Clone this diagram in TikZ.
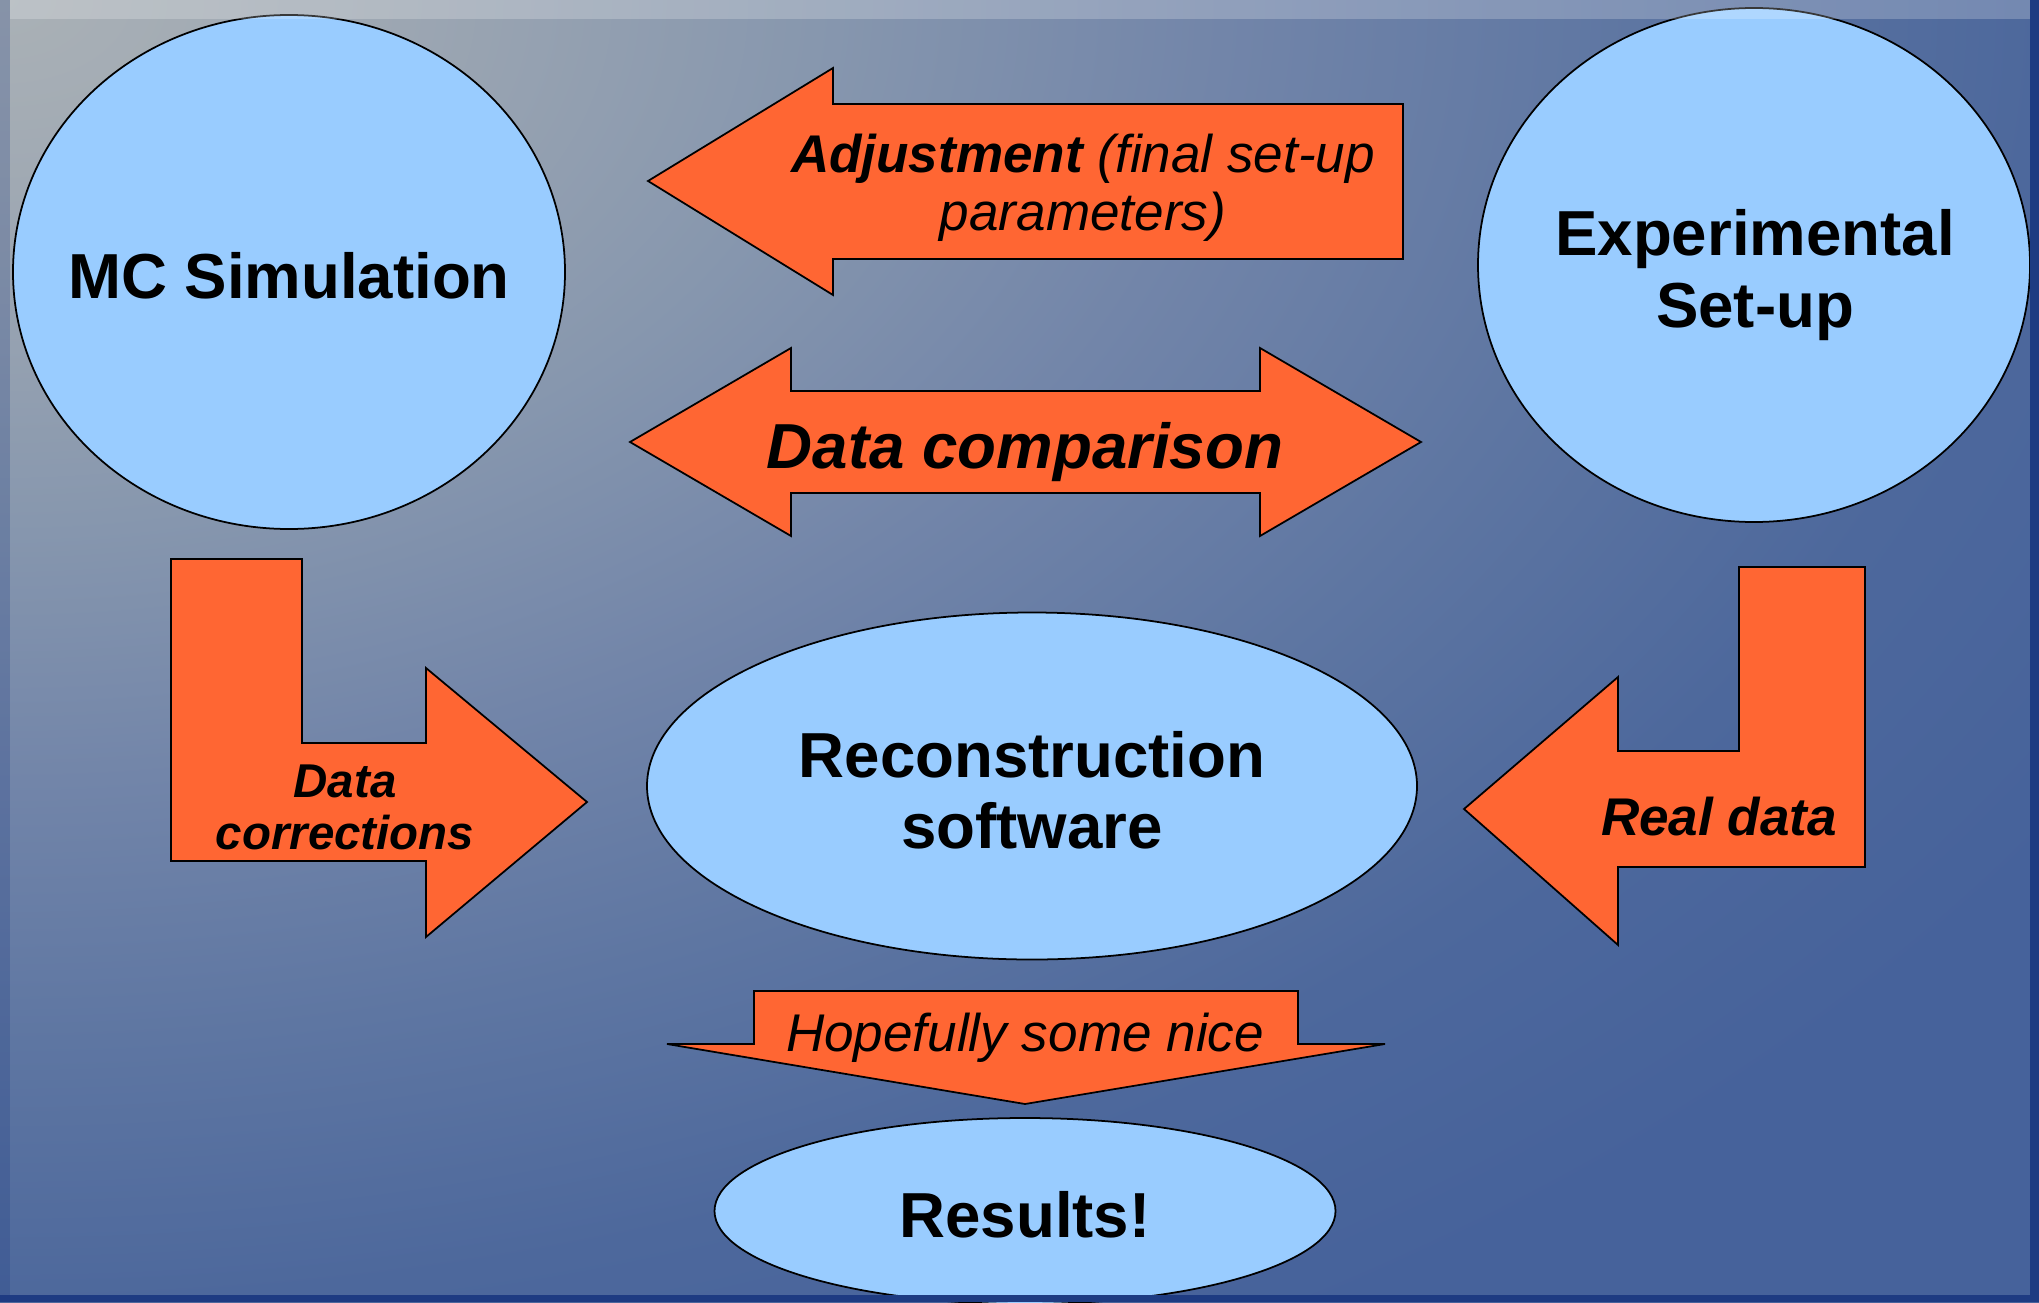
\documentclass[tikz,border=0pt]{standalone}
\usepackage{fontspec}
\setmainfont{Liberation Sans}
\usepackage{tikz}
\usetikzlibrary{shapes.geometric}

\definecolor{arroworange}{HTML}{FF6633}
\definecolor{bubbleblue}{HTML}{99CCFF}
\definecolor{framedark}{HTML}{1E3B82}
\definecolor{bgA}{HTML}{AAB1B6}
\definecolor{bgB}{HTML}{9CA6B2}
\definecolor{bgC}{HTML}{8797AE}
\definecolor{bgD}{HTML}{7285A9}
\definecolor{bgE}{HTML}{5E76A2}
\definecolor{bgF}{HTML}{4D689C}
\definecolor{bgG}{HTML}{46629B}

% slide background, light in the upper left corner
\pgfdeclareradialshading{slidebg}{\pgfpoint{0bp}{0bp}}{color(0bp)=(bgA); color(5bp)=(bgB); color(10bp)=(bgC); color(15bp)=(bgD); color(20bp)=(bgE); color(25bp)=(bgF); color(30bp)=(bgG); color(50bp)=(bgG)}

\begin{document}
\begin{tikzpicture}[x = 1cm, y = -1cm,
	bubble/.style = {draw = black, line width = .5pt, shape = ellipse, fill = bubbleblue, inner sep = 0pt},
	blockarrow/.style = {draw = black, line width = .5pt, fill = arroworange, line join = miter},
	bigtext/.style = {align = center, inner sep = 0pt, font = \fontsize{18.1}{20.3}\selectfont\bfseries},
	midtext/.style = {align = center, inner sep = 0pt, font = \fontsize{15.1}{16.6}\selectfont\itshape},
	smalltext/.style = {align = center, inner sep = 0pt, font = \fontsize{13.5}{14.8}\selectfont\bfseries\itshape}]
    \useasboundingbox (0,0) rectangle (20.39,13.02);
    \begin{scope}
    	\clip (0,0) rectangle (20.39,13.02);
    	\shade[shading = slidebg] (-20.39,-13.02) rectangle (20.39,13.02);
    \end{scope}

    % the four bubbles
    \node[bubble, minimum width = 5.52cm, minimum height = 5.14cm] (mc) at (2.89, 2.72) {};
    \node[bubble, minimum width = 5.52cm, minimum height = 5.14cm] (exp) at (17.54, 2.65) {};
    \node[bubble, minimum width = 7.70cm, minimum height = 3.47cm] (reco) at (10.32, 7.86) {};
    \node[bubble, minimum width = 6.21cm, minimum height = 1.86cm] (res) at (10.25, 12.11) {};
    \node[bigtext] (mctext) at (2.89, 2.76) {MC Simulation};
    \node[bigtext] (exptext) at (17.55, 2.75) {Experimental\\Set-up};
    \node[bigtext] (recotext) at (10.32, 7.90) {Reconstruction\\software};
    \node[bigtext] (restext) at (10.25, 12.15) {Results!};

    % block arrows
    \draw[blockarrow] (6.48,1.81) -- (8.33,0.68) -- (8.33,1.04) -- (14.03,1.04) -- (14.03,2.59) -- (8.33,2.59) -- (8.33,2.95) -- cycle;
    \draw[blockarrow] (6.30,4.42) -- (7.91,3.48) -- (7.91,3.91) -- (12.60,3.91) -- (12.60,3.48) -- (14.21,4.42)
    	-- (12.60,5.36) -- (12.60,4.93) -- (7.91,4.93) -- (7.91,5.36) -- cycle;
    \draw[blockarrow] (1.71,5.59) -- (3.02,5.59) -- (3.02,7.43) -- (4.26,7.43) -- (4.26,6.68) -- (5.87,8.02)
    	-- (4.26,9.37) -- (4.26,8.61) -- (1.71,8.61) -- cycle;
    \draw[blockarrow] (18.65,5.67) -- (18.65,8.67) -- (16.18,8.67) -- (16.18,9.45) -- (14.64,8.09) -- (16.18,6.77)
    	-- (16.18,7.51) -- (17.39,7.51) -- (17.39,5.67) -- cycle;
    \draw[blockarrow] (7.54,9.91) -- (12.98,9.91) -- (12.98,10.44) -- (13.85,10.44) -- (10.25,11.04) -- (6.67,10.44) -- (7.54,10.44) -- cycle;
    \node[midtext] (adjust) at (10.83, 1.875) {{\bfseries Adjustment} (final set-up\\parameters)};
    \node[bigtext, font = \fontsize{18.1}{20.3}\selectfont\bfseries\itshape] (compare) at (10.25, 4.52) {Data comparison};
    \node[smalltext] (corr) at (3.45, 8.07) {Data\\corrections};
    \node[midtext, font = \fontsize{15.1}{16.6}\selectfont\bfseries\itshape] (real) at (17.19, 8.17) {Real data};
    \node[midtext] (hope) at (10.25, 10.38) {Hopefully some nice};

    % slide frame
    \fill[white, opacity = .22] (0.10,0) rectangle (20.30,0.19);
    \fill[framedark, opacity = .25] (0,0) rectangle (0.10,13.02);
    \fill[framedark] (20.30,0) rectangle (20.39,13.02);
    \fill[framedark] (0,12.95) rectangle (20.39,13.02);
\end{tikzpicture}
\end{document}
